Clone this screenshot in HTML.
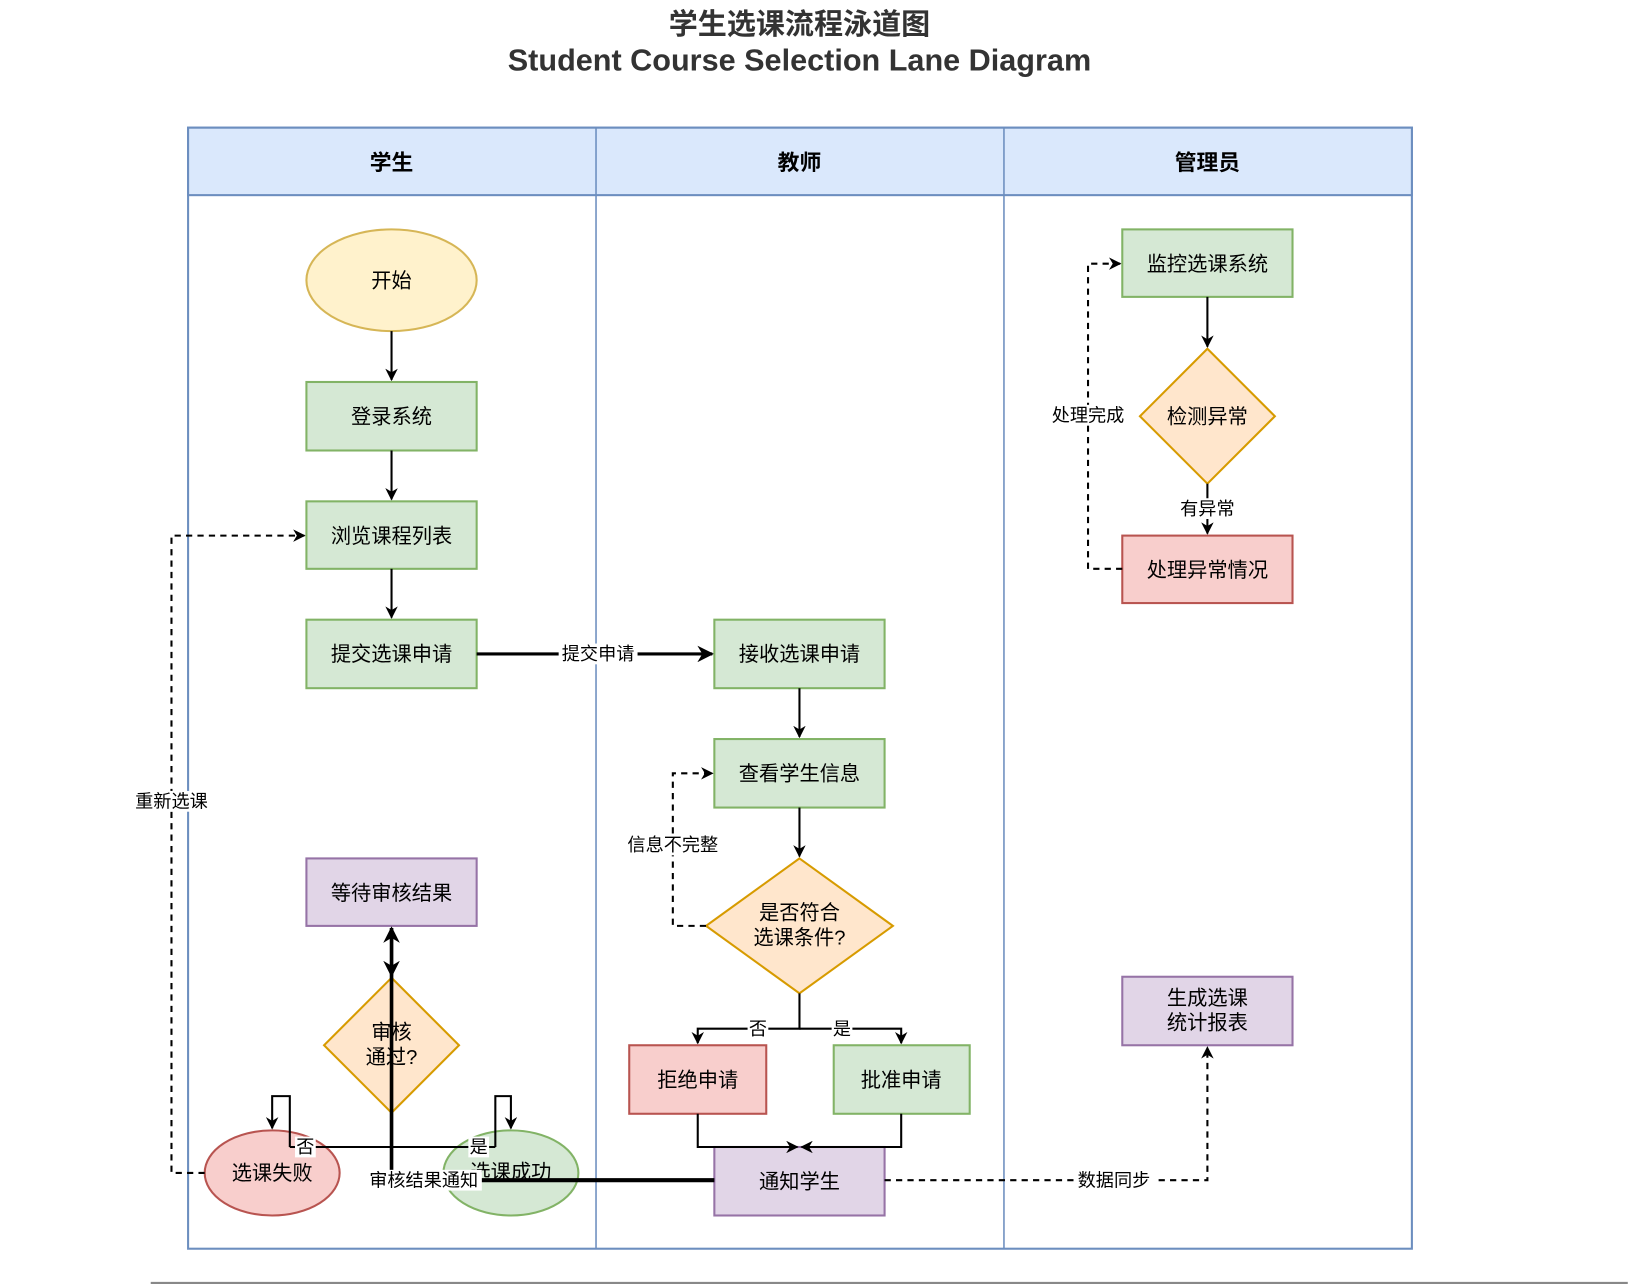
<!DOCTYPE html>
<html><head><meta charset="utf-8"><style>html,body{margin:0;padding:0;background:#fff}svg{display:block}text{font-family:"Liberation Sans","Noto Sans CJK SC",sans-serif}</style></head>
<body>
<svg width="1628" height="1284" viewBox="0 0 1568 1237" xmlns="http://www.w3.org/2000/svg">
<defs>
<marker id="a" viewBox="0 0 10 10" refX="9" refY="5" markerWidth="12" markerHeight="12" orient="auto-start-reverse" markerUnits="userSpaceOnUse"><path d="M0,0 L10,5 L0,10 L3,5 z" fill="#000"/></marker>
<marker id="b" viewBox="0 0 10 10" refX="9" refY="5" markerWidth="16" markerHeight="16" orient="auto-start-reverse" markerUnits="userSpaceOnUse"><path d="M0,0 L10,5 L0,10 L3,5 z" fill="#000"/></marker>
</defs>
<text x="770" y="33" text-anchor="middle" font-size="28" font-weight="bold" fill="#333">学生选课流程泳道图</text>
<text x="770" y="68" text-anchor="middle" font-size="29.5" font-weight="bold" fill="#333">Student Course Selection Lane Diagram</text>
<rect x="181" y="123" width="1179" height="1080" fill="#fff" stroke="#6c8ebf" stroke-width="2"/>
<rect x="181" y="123" width="1179" height="65" fill="#dae8fc" stroke="#6c8ebf" stroke-width="2"/>
<line x1="574" y1="123" x2="574" y2="1203" stroke="#6c8ebf" stroke-width="1.5"/>
<line x1="967" y1="123" x2="967" y2="1203" stroke="#6c8ebf" stroke-width="1.5"/>
<g font-size="21" font-weight="bold" text-anchor="middle" fill="#000">
<text x="377" y="164">学生</text><text x="770" y="164">教师</text><text x="1163" y="164">管理员</text></g>
<line x1="145" y1="1236" x2="1568" y2="1236" stroke="#888" stroke-width="2"/>

<g stroke-width="2">
<ellipse cx="377" cy="270" rx="82" ry="49" fill="#fff2cc" stroke="#d6b656"/>
<rect x="295" y="368" width="164" height="66" fill="#d5e8d4" stroke="#82b366"/>
<rect x="295" y="483" width="164" height="65" fill="#d5e8d4" stroke="#82b366"/>
<rect x="295" y="597" width="164" height="66" fill="#d5e8d4" stroke="#82b366"/>
<rect x="295" y="827" width="164" height="65" fill="#e1d5e7" stroke="#9673a6"/>
<path d="M377,942 L442,1007 L377,1072 L312,1007 z" fill="#ffe6cc" stroke="#d79b00"/>
<ellipse cx="262" cy="1130" rx="65" ry="41" fill="#f8cecc" stroke="#b85450"/>
<ellipse cx="492" cy="1130" rx="65" ry="41" fill="#d5e8d4" stroke="#82b366"/>
<rect x="688" y="597" width="164" height="66" fill="#d5e8d4" stroke="#82b366"/>
<rect x="688" y="712" width="164" height="66" fill="#d5e8d4" stroke="#82b366"/>
<path d="M770,827 L860,892 L770,957 L680,892 z" fill="#ffe6cc" stroke="#d79b00"/>
<rect x="606" y="1007" width="132" height="66" fill="#f8cecc" stroke="#b85450"/>
<rect x="803" y="1007" width="131" height="66" fill="#d5e8d4" stroke="#82b366"/>
<rect x="688" y="1105" width="164" height="66" fill="#e1d5e7" stroke="#9673a6"/>
<rect x="1081" y="221" width="164" height="65" fill="#d5e8d4" stroke="#82b366"/>
<path d="M1163,336 L1228,401 L1163,466 L1098,401 z" fill="#ffe6cc" stroke="#d79b00"/>
<rect x="1081" y="516" width="164" height="65" fill="#f8cecc" stroke="#b85450"/>
<rect x="1081" y="941" width="164" height="66" fill="#e1d5e7" stroke="#9673a6"/>
</g>

<g fill="none" stroke="#000" stroke-width="2">
<path d="M377,319 V366" marker-end="url(#a)"/>
<path d="M377,434 V481" marker-end="url(#a)"/>
<path d="M377,548 V595" marker-end="url(#a)"/>
<path d="M459,630 H686" stroke-width="3" marker-end="url(#b)"/>
<path d="M770,663 V710" marker-end="url(#a)"/>
<path d="M770,778 V825" marker-end="url(#a)"/>
<path d="M680,892 H648 V745 H686" stroke-dasharray="6,5" marker-end="url(#a)"/>
<path d="M770,957 V991 H672 V1005" marker-end="url(#a)"/>
<path d="M770,991 H868 V1005" marker-end="url(#a)"/>
<path d="M672,1073 V1105 H768" marker-end="url(#a)"/>
<path d="M868,1073 V1105 H772" marker-end="url(#a)"/>
<path d="M688,1137 H463" stroke-width="4"/>
<path d="M377,1130 V894" stroke-width="3.5" marker-end="url(#b)"/>
<path d="M377,900 V940" stroke-width="3" marker-end="url(#b)"/>
<path d="M279,1105 H477"/>
<path d="M279,1105 V1056 H262 V1087" marker-end="url(#a)"/>
<path d="M477,1105 V1056 H492 V1087" marker-end="url(#a)"/>
<path d="M197,1130 H165 V516 H293" stroke-dasharray="6,5" marker-end="url(#a)"/>
<path d="M852,1137 H1163 V1009" stroke-dasharray="6,5" marker-end="url(#a)"/>
<path d="M1163,286 V334" marker-end="url(#a)"/>
<path d="M1163,466 V514" marker-end="url(#a)"/>
<path d="M1081,548 H1048 V254 H1079" stroke-dasharray="6,5" marker-end="url(#a)"/>
</g>

<g font-size="19.5" text-anchor="middle" fill="#000">
<text x="377" y="277">开始</text>
<text x="377" y="408">登录系统</text>
<text x="377" y="523">浏览课程列表</text>
<text x="377" y="637">提交选课申请</text>
<text x="377" y="867">等待审核结果</text>
<text x="377" y="1001">审核</text><text x="377" y="1025">通过?</text>
<text x="262" y="1137">选课失败</text>
<text x="492" y="1136">选课成功</text>
<text x="770" y="637">接收选课申请</text>
<text x="770" y="752">查看学生信息</text>
<text x="770" y="886">是否符合</text><text x="770" y="910">选课条件?</text>
<text x="672" y="1047">拒绝申请</text>
<text x="868" y="1047">批准申请</text>
<text x="770" y="1145">通知学生</text>
<text x="1163" y="261">监控选课系统</text>
<text x="1163" y="408">检测异常</text>
<text x="1163" y="556">处理异常情况</text>
<text x="1163" y="968">生成选课</text><text x="1163" y="992">统计报表</text>
</g>

<g font-size="17.5" text-anchor="middle" fill="#000">
<rect x="538" y="620" width="76" height="20" fill="#fff"/><text x="576" y="636">提交申请</text>
<rect x="600" y="804" width="96" height="20" fill="#fff"/><text x="648" y="820">信息不完整</text>
<rect x="720" y="981" width="20" height="20" fill="#fff"/><text x="730" y="997">否</text>
<rect x="801" y="981" width="20" height="20" fill="#fff"/><text x="811" y="997">是</text>
<rect x="284" y="1095" width="20" height="20" fill="#fff"/><text x="294" y="1111">否</text>
<rect x="451" y="1095" width="20" height="20" fill="#fff"/><text x="461" y="1111">是</text>
<rect x="353" y="1127" width="111" height="20" fill="#fff"/><text x="408" y="1143">审核结果通知</text>
<rect x="126" y="762" width="78" height="20" fill="#fff"/><text x="165" y="778">重新选课</text>
<rect x="1034" y="1127" width="78" height="20" fill="#fff"/><text x="1073" y="1143">数据同步</text>
<rect x="1134" y="480" width="58" height="20" fill="#fff"/><text x="1163" y="496">有异常</text>
<rect x="1010" y="390" width="76" height="20" fill="#fff"/><text x="1048" y="406">处理完成</text>
</g>
</svg>
</body></html>
